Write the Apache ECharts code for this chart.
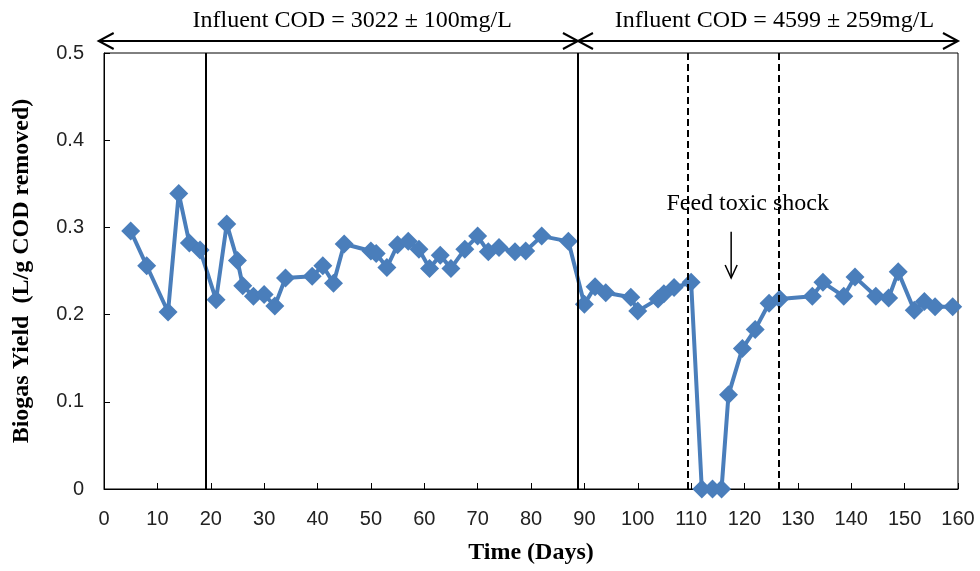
<!DOCTYPE html>
<html>
<head>
<meta charset="utf-8">
<script src="https://cdn.jsdelivr.net/npm/echarts@6/dist/echarts.min.js"></script>
<style>
html,body{margin:0;padding:0;background:#fff;}
#chart{width:980px;height:571px;}
</style>
</head>
<body>
<div id="chart"></div>
<script>
// ---- data ----
const days = [5, 8, 12, 14, 16, 18, 21, 23, 25, 26, 28, 30, 32, 34, 39, 41, 43, 45, 50, 51, 53, 55, 57, 59, 61, 63, 65, 67.6, 70, 72, 74, 77, 79, 82, 87, 90, 92, 94, 98.7, 100, 103.8, 104.9, 106.8, 110, 112, 114, 115.7, 117, 119.6, 122, 124.6, 126.6, 132.7, 134.7, 138.6, 140.7, 144.6, 147, 148.8, 151.8, 153.7, 155.7, 159];
const biogasYield = [0.296, 0.256, 0.203, 0.339, 0.282, 0.274, 0.217, 0.304, 0.262, 0.233, 0.221, 0.223, 0.210, 0.242, 0.244, 0.256, 0.236, 0.281, 0.273, 0.270, 0.254, 0.280, 0.284, 0.275, 0.253, 0.268, 0.253, 0.275, 0.290, 0.272, 0.277, 0.272, 0.273, 0.290, 0.284, 0.212, 0.232, 0.225, 0.220, 0.204, 0.218, 0.224, 0.231, 0.237, 0, 0, 0, 0.108, 0.161, 0.183, 0.213, 0.218, 0.221, 0.237, 0.221, 0.243, 0.221, 0.219, 0.249, 0.205, 0.215, 0.209, 0.209];
const solidLineDays = [19, 88.8];
const dashedLineDays = [109.4, 126.5];
const xTicks = [0, 10, 20, 30, 40, 50, 60, 70, 80, 90, 100, 110, 120, 130, 140, 150, 160];
const yTicks = [0, 0.1, 0.2, 0.3, 0.4, 0.5];
const periodLabels = ['Influent COD = 3022 \u00b1 100mg/L', 'Influent COD = 4599 \u00b1 259mg/L'];
const shockLabel = 'Feed toxic shock';
const xTitle = 'Time (Days)';
const yTitle = 'Biogas Yield  (L/g COD removed)';

// ---- layout / style ----
const serif = '"Liberation Serif", "Times New Roman", serif';
const sans = '"Liberation Sans Narrow", "Liberation Sans", sans-serif';
const blue = '#4A7EBB';
const periodStart = -1, periodEnd = 160;
const periodTextDays = [46.5, 125.6];
const shockText = [120.6, 0.327];
const shockArrow = [117.5, 0.295, 0.242];

const chart = echarts.init(document.getElementById('chart'));
const seriesData = days.map((d, i) => [d, biogasYield[i]]);

chart.setOption({
  animation: false,
  backgroundColor: '#fff',
  grid: {left: 104, right: 22, top: 53, bottom: 82, show: true, borderColor: '#000', borderWidth: 1,
    containLabel: false, outerBoundsMode: 'none'},
  xAxis: {
    type: 'value', min: xTicks[0], max: xTicks[xTicks.length - 1], interval: 10,
    axisLine: {lineStyle: {color: '#000', width: 1}},
    axisTick: {inside: true, length: 6, lineStyle: {color: '#000'}},
    axisLabel: {color: '#222', fontFamily: sans, fontSize: 20, margin: 20},
    splitLine: {show: false},
    name: xTitle, nameLocation: 'middle', nameGap: 52,
    nameTextStyle: {fontFamily: serif, fontWeight: 'bold', fontSize: 24, color: '#000'}
  },
  yAxis: {
    type: 'value', min: yTicks[0], max: yTicks[yTicks.length - 1], interval: 0.1,
    axisLine: {show: true, lineStyle: {color: '#000', width: 1}},
    axisTick: {show: true, inside: true, length: 6, lineStyle: {color: '#000'}},
    axisLabel: {color: '#222', fontFamily: sans, fontSize: 20, margin: 20,
      formatter: v => v === 0 ? '0' : v.toFixed(1)},
    splitLine: {show: false},
    name: yTitle, nameLocation: 'middle', nameGap: 70,
    nameTextStyle: {fontFamily: serif, fontWeight: 'bold', fontSize: 24, color: '#000'}
  },
  series: [{
    type: 'line', data: seriesData,
    symbol: 'diamond', symbolSize: 19,
    lineStyle: {color: blue, width: 4},
    itemStyle: {color: blue},
    markLine: {
      silent: true, symbol: 'none', label: {show: false},
      data: solidLineDays.map(d => ({xAxis: d, lineStyle: {color: '#000', width: 2, type: 'solid'}}))
        .concat(dashedLineDays.map(d => ({xAxis: d, lineStyle: {color: '#000', width: 2, type: [7, 4]}})))
    },
    z: 3
  }]
});

function px(x, y) { return chart.convertToPixel({gridIndex: 0}, [x, y]); }
const topY = px(0, 0.5)[1] - 12;
const xa = px(periodStart, 0)[0], xm = px(solidLineDays[1], 0)[0], xb = px(periodEnd, 0)[0];
const hl = 15, hw = 8;
const lineStyle = {stroke: '#000', lineWidth: 2, fill: null};
const graphics = [
  {type: 'line', shape: {x1: xa, y1: topY, x2: xb, y2: topY}, style: lineStyle},
  {type: 'polyline', shape: {points: [[xa + hl, topY - hw], [xa, topY], [xa + hl, topY + hw]]}, style: lineStyle},
  {type: 'polyline', shape: {points: [[xm - hl, topY - hw], [xm, topY], [xm - hl, topY + hw]]}, style: lineStyle},
  {type: 'polyline', shape: {points: [[xm + hl, topY - hw], [xm, topY], [xm + hl, topY + hw]]}, style: lineStyle},
  {type: 'polyline', shape: {points: [[xb - hl, topY - hw], [xb, topY], [xb - hl, topY + hw]]}, style: lineStyle}
];
periodLabels.forEach((t, i) => {
  graphics.push({type: 'text', x: px(periodTextDays[i], 0)[0], y: topY - 20,
    style: {text: t, fontFamily: serif, fontSize: 24, fill: '#000', align: 'center', verticalAlign: 'middle'}});
});
const sp = px(shockText[0], shockText[1]);
graphics.push({type: 'text', x: sp[0], y: sp[1],
  style: {text: shockLabel, fontFamily: serif, fontSize: 24, fill: '#000', align: 'center', verticalAlign: 'middle'}});
const a1 = px(shockArrow[0], shockArrow[1]), a2 = px(shockArrow[0], shockArrow[2]);
graphics.push({type: 'line', shape: {x1: a1[0], y1: a1[1], x2: a2[0], y2: a2[1]}, style: {stroke: '#000', lineWidth: 1.5}});
graphics.push({type: 'polyline', shape: {points: [[a2[0] - 6, a2[1] - 13], [a2[0], a2[1]], [a2[0] + 6, a2[1] - 13]]}, style: {stroke: '#000', lineWidth: 1.5, fill: null}});
chart.setOption({graphic: graphics});
</script>
</body>
</html>
